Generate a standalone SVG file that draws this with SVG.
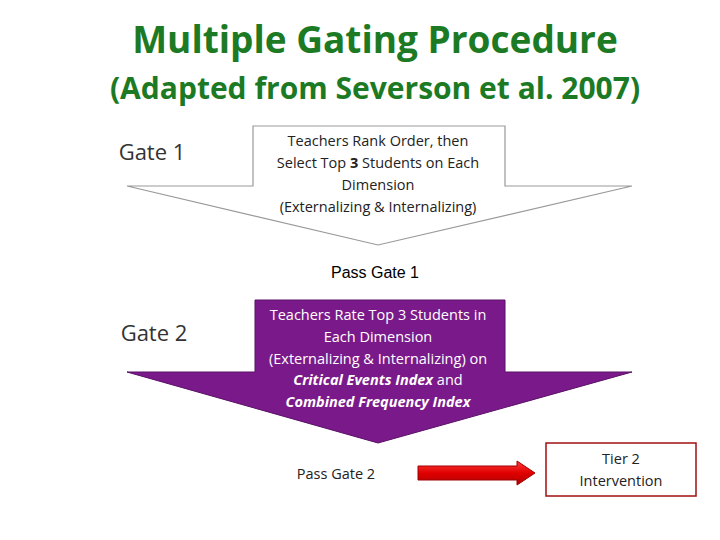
<svg xmlns="http://www.w3.org/2000/svg" width="720" height="540" viewBox="0 0 720 540">
<defs>
<style>
.t{font-family:"Open Sans","Liberation Sans",sans-serif;text-anchor:middle}
.a{font-family:"Liberation Sans",sans-serif;text-anchor:middle}
.h{fill:#1c7a24;font-weight:bold}
.g{font-size:22px;fill:#333}
.s{font-size:14.5px;fill:#222}
.w{font-size:14.5px;fill:#fff}
</style>
<linearGradient id="rg" x1="0" y1="0" x2="0" y2="1"><stop offset="0" stop-color="#ff3b3b"/><stop offset="0.5" stop-color="#e00000"/><stop offset="1" stop-color="#b00000"/></linearGradient>
</defs>
<rect width="720" height="540" fill="#fff"/>
<text class="t h" x="375" y="53" font-size="37">Multiple Gating Procedure</text>
<text class="t h" x="375" y="99" font-size="30">(Adapted from Severson et al. 2007)</text>
<g id="gate1">
<text class="t g" x="152" y="160">Gate 1</text>
<path d="M253,126H505V186H632L378,245L127,186H253Z" fill="#fff" stroke="#999" stroke-width="1.2"/>
<text class="t s" x="378" y="146">Teachers Rank Order, then</text>
<text class="t s" x="378" y="168">Select Top <tspan font-weight="bold">3</tspan> Students on Each</text>
<text class="t s" x="378" y="190">Dimension</text>
<text class="t s" x="378" y="212">(Externalizing &amp; Internalizing)</text>
</g>
<text class="a" x="375" y="278" font-size="16" fill="#000">Pass Gate 1</text>
<g id="gate2">
<text class="t g" x="154" y="341">Gate 2</text>
<path d="M255,300H505V372H632L378,443L127,372H255Z" fill="#7a1a8a" stroke="#5a0f66" stroke-width="1"/>
<text class="t w" x="378" y="320">Teachers Rate Top 3 Students in</text>
<text class="t w" x="378" y="342">Each Dimension</text>
<text class="t w" x="378" y="364">(Externalizing &amp; Internalizing) on</text>
<text class="t w" x="378" y="385"><tspan font-weight="bold" font-style="italic">Critical Events Index</tspan> and</text>
<text class="t w" x="378" y="407" font-weight="bold" font-style="italic">Combined Frequency Index</text>
</g>
<text class="t s" x="336" y="479">Pass Gate 2</text>
<g id="connectors">
<path d="M418,466H517V461L535,473L517,485V480H418Z" fill="url(#rg)" stroke="#a00000" stroke-width="1"/>
</g>
<g id="tier2">
<rect x="546" y="443" width="150" height="53" fill="#fff" stroke="#a01010" stroke-width="1.5"/>
<text class="t s" x="621" y="464">Tier 2</text>
<text class="t s" x="621" y="486">Intervention</text>
</g>
</svg>
